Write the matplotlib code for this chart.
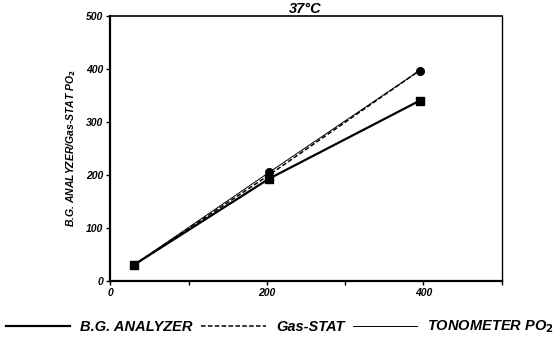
import matplotlib
matplotlib.use('Agg')
import matplotlib.pyplot as plt
from matplotlib.ticker import MultipleLocator

plt.rcParams['font.family'] = ['Liberation Sans', 'DejaVu Sans']

# PO2 values
x_vals = [30, 203, 395]
bg_analyzer = [30, 193, 340]
gas_stat = [30, 200, 397]
tonometer = [30, 205, 397]

labels = ['B.G. ANALYZER', 'Gas-STAT', 'TONOMETER PO$_\\mathbf{2}$']
title = '37°C'
ylabel = 'B.G. ANALYZER/Gas-STAT PO$_\\mathbf{2}$'

fig = plt.figure(figsize=(5.6, 3.4), dpi=100)
ax = fig.add_axes([0.197, 0.174, 0.699, 0.779])

l1, = ax.plot(x_vals, bg_analyzer, color='black', lw=1.6, marker='s', ms=5.5,
              label=labels[0])
l2, = ax.plot(x_vals, gas_stat, color='black', lw=1.1, ls=(0, (3, 1.5)),
              label=labels[1])
l3, = ax.plot(x_vals, tonometer, color='black', lw=0.7, marker='o', ms=5.5,
              label=labels[2])

ax.set_xlim(0, 500)
ax.set_ylim(0, 500)
ax.xaxis.set_major_locator(MultipleLocator(200))
ax.xaxis.set_minor_locator(MultipleLocator(100))
ax.yaxis.set_major_locator(MultipleLocator(100))
ax.tick_params(which='both', direction='out', length=3, width=1, pad=2)
for lab in ax.get_xticklabels() + ax.get_yticklabels():
    lab.set_fontsize(7.5)
    lab.set_fontweight('bold')
    lab.set_fontstyle('italic')

ax.spines['left'].set_linewidth(1.6)
ax.spines['bottom'].set_linewidth(1.6)
ax.spines['top'].set_linewidth(1.2)
ax.spines['right'].set_linewidth(1.0)

ax.set_ylabel(ylabel, fontsize=7.5, fontweight='bold', fontstyle='italic',
              labelpad=6)

fig.text(0.545, 0.962, title, ha='center', va='baseline', fontsize=10.5,
         fontweight='bold', fontstyle='italic')

leg = fig.legend(handles=[l1, l2, l3], loc='lower center', ncol=3,
                 bbox_to_anchor=(0.5, -0.025), frameon=False, handlelength=4.4,
                 handletextpad=0.7, columnspacing=0.6,
                 prop={'size': 10.5, 'weight': 'bold', 'style': 'italic'})
for h in leg.legend_handles:
    h.set_marker('')

fig.savefig('out.png', dpi=100)
